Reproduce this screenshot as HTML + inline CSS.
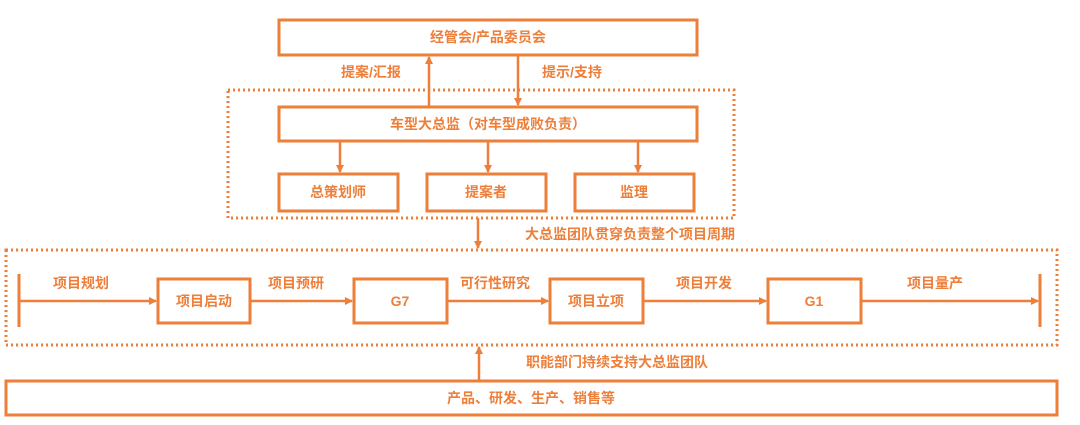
<!DOCTYPE html>
<html><head><meta charset="utf-8"><style>
body{margin:0;background:#fff;}
svg text{font-family:"Liberation Sans","Noto Sans CJK SC",sans-serif;font-weight:bold;fill:#ee7f3a;font-size:14px;text-anchor:middle;dominant-baseline:central;}
</style></head><body>
<svg width="1080" height="420" viewBox="0 0 1080 420" xmlns="http://www.w3.org/2000/svg">
<defs><marker id="a" markerWidth="8" markerHeight="8" refX="7" refY="4" orient="auto" markerUnits="userSpaceOnUse"><path d="M0,0 L8,4 L0,8z" fill="#ee7f3a"/></marker></defs>
<g fill="none" stroke="#ee7f3a" stroke-width="3">
<rect x="279" y="20" width="418" height="35"/>
<rect x="279" y="107" width="418" height="34"/>
<rect x="279" y="174" width="119" height="37"/>
<rect x="427" y="174" width="119" height="37"/>
<rect x="575" y="174" width="119" height="37"/>
<rect x="158" y="279" width="92" height="44"/>
<rect x="354" y="279" width="93" height="44"/>
<rect x="550" y="279" width="93" height="44"/>
<rect x="768" y="279" width="93" height="44"/>
<rect x="6" y="381" width="1051" height="34"/>
</g>
<g fill="none" stroke="#ee7f3a" stroke-width="3" stroke-dasharray="2 3">
<rect x="228" y="90" width="506" height="128"/>
<rect x="6" y="250" width="1051" height="95"/>
</g>
<g stroke="#ee7f3a" stroke-width="2.5" marker-end="url(#a)">
<line x1="429" y1="107" x2="429" y2="57"/>
<line x1="518" y1="55" x2="518" y2="105"/>
<line x1="340" y1="141" x2="340" y2="172"/>
<line x1="488" y1="141" x2="488" y2="172"/>
<line x1="638" y1="141" x2="638" y2="172"/>
<line x1="478" y1="218" x2="478" y2="248"/>
<line x1="479" y1="381" x2="479" y2="347"/>
<line x1="19" y1="301" x2="156" y2="301"/>
<line x1="250" y1="301" x2="352" y2="301"/>
<line x1="447" y1="301" x2="548" y2="301"/>
<line x1="643" y1="301" x2="766" y2="301"/>
<line x1="861" y1="301" x2="1038" y2="301"/>
</g>
<g stroke="#ee7f3a" stroke-width="3">
<line x1="19" y1="274" x2="19" y2="327"/>
<line x1="1040" y1="274" x2="1040" y2="327"/>
</g>
<text x="488" y="37">经管会/产品委员会</text>
<text x="371" y="72">提案/汇报</text>
<text x="572" y="72">提示/支持</text>
<text x="488" y="124">车型大总监（对车型成败负责）</text>
<text x="338" y="192">总策划师</text>
<text x="486" y="192">提案者</text>
<text x="634" y="192">监理</text>
<text x="630" y="234">大总监团队贯穿负责整个项目周期</text>
<text x="81" y="283">项目规划</text>
<text x="204" y="301">项目启动</text>
<text x="296" y="283">项目预研</text>
<text x="400" y="301">G7</text>
<text x="495" y="283">可行性研究</text>
<text x="596" y="301">项目立项</text>
<text x="704" y="283">项目开发</text>
<text x="814" y="301">G1</text>
<text x="935" y="283">项目量产</text>
<text x="617" y="362">职能部门持续支持大总监团队</text>
<text x="531" y="398">产品、研发、生产、销售等</text>
</svg>
</body></html>
